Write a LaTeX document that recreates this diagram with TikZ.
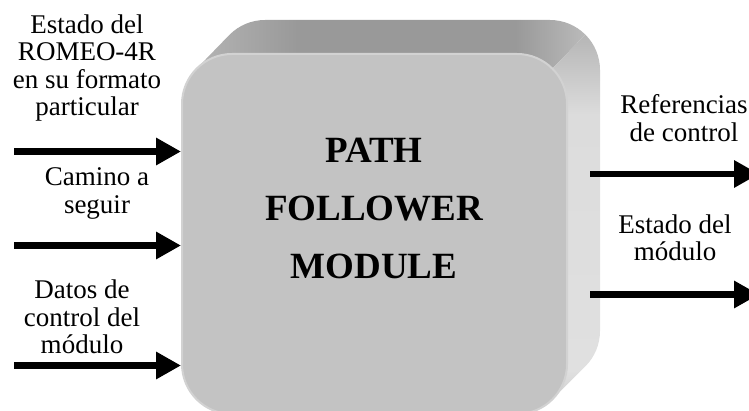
\documentclass[tikz,border=0pt]{standalone}
\usepackage{fontspec}
\setmainfont{Liberation Serif}
\usetikzlibrary{arrows.meta}

% greys of the extruded block
\definecolor{frontgray}{RGB}{195,195,195}
\definecolor{rimgray}{RGB}{210,210,210}
\definecolor{topA}{RGB}{180,180,180}
\definecolor{topB}{RGB}{153,153,153}
\definecolor{topC}{RGB}{186,186,186}
\definecolor{sideA}{RGB}{208,208,208}
\definecolor{sideB}{RGB}{224,224,224}
\definecolor{sideC}{RGB}{220,220,220}
\definecolor{sideD}{RGB}{182,182,182}

\pgfdeclarehorizontalshading{topface}{100bp}{color(0bp)=(topA); color(25bp)=(topA);
  color(38bp)=(topB); color(66bp)=(topB); color(75bp)=(topC); color(100bp)=(topC)}
\pgfdeclareverticalshading{rightface}{100bp}{color(0bp)=(sideA); color(25bp)=(sideA);
  color(29bp)=(sideB); color(64bp)=(sideC); color(75bp)=(sideD); color(100bp)=(sideD)}

\tikzset{
  lbl/.style={font=\fontsize{27}{27.5}\selectfont, align=center, inner sep=0pt},
  title/.style={font=\fontsize{37}{58}\selectfont\bfseries, align=center, inner sep=0pt},
  facebox/.style={draw=rimgray, line width=2pt, fill=frontgray, rounded corners=50pt,
    minimum width=385pt, minimum height=360pt, inner sep=0pt},
  bigarrow/.style={line width=6.5pt, -{Triangle[length=25pt,width=26pt]}}
}

\begin{document}
\begin{tikzpicture}[x=1pt,y=1pt]
  \useasboundingbox (0,0) rectangle (749,410);
  \clip (0,0) rectangle (749,410);

  % top face of the block
  \shade[shading=topface]
    (196.64,341.36) -- (229.64,375.36) arc[start angle=135,end angle=90,radius=50]
    -- (550,390) arc[start angle=90,end angle=45,radius=50]
    -- (552.36,341.36) arc[start angle=45,end angle=90,radius=50]
    -- (232,356) arc[start angle=90,end angle=135,radius=50] -- cycle;

  % right face of the block
  \shade[shading=rightface]
    (585.36,375.36) arc[start angle=45,end angle=0,radius=50]
    -- (600,79) arc[start angle=0,end angle=-45,radius=50]
    -- (552.36,10.64) arc[start angle=-45,end angle=0,radius=50]
    -- (567,306) arc[start angle=0,end angle=45,radius=50] -- cycle;

  % front face
  \node[facebox] (mod) at (374.5,176) {};
  \node[title] (name) at (374,201.6) {PATH\\FOLLOWER\\MODULE};

  % inputs
  \node[lbl] (in1) at (87,342.1) {Estado del\\ROMEO-4R\\en su formato\\particular};
  \node[lbl] (in2) at (97,216.6) {Camino a\\seguir};
  \node[lbl] (in3) at (82,93) {Datos de\\control del\\módulo};

  \coordinate (s1) at (14,258.5);
  \coordinate (s2) at (14,164.5);
  \coordinate (s3) at (14,44.5);
  \draw[bigarrow] (s1) -- (s1 -| mod.west);
  \draw[bigarrow] (s2) -- (s2 -| mod.west);
  \draw[bigarrow] (s3) -- (s3 -| mod.west);

  % outputs
  \node[lbl] (out1) at (684,292) {Referencias\\de control};
  \node[lbl] (out2) at (675,172.2) {Estado del\\módulo};

  \coordinate (o1) at (590,236);
  \coordinate (e1) at (759,236);
  \coordinate (o2) at (590,115.5);
  \coordinate (e2) at (759,115.5);
  \draw[bigarrow] (o1) -- (e1);
  \draw[bigarrow] (o2) -- (e2);
\end{tikzpicture}
\end{document}
